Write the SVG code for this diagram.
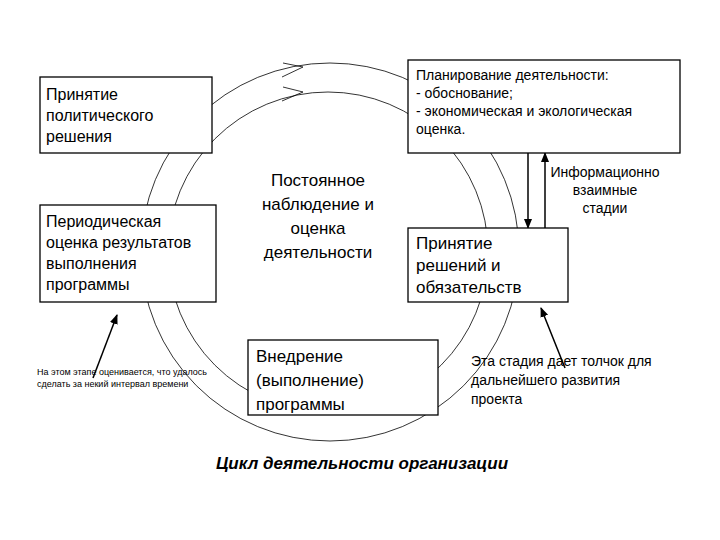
<svg xmlns="http://www.w3.org/2000/svg" width="720" height="540" viewBox="0 0 720 540">
<style>
.b{fill:#fff;stroke:#000;stroke-width:1.3}
.c{fill:none;stroke:#000;stroke-width:0.8}
text{font-family:"Liberation Sans",Arial,sans-serif;fill:#000}
.t{font-size:16px}
.s{font-size:14px}
</style>
<defs><marker id="a" markerWidth="10" markerHeight="10" refX="9" refY="5" orient="auto" markerUnits="userSpaceOnUse"><path d="M0,1 L10,5 L0,9 Z" fill="#000"/></marker></defs>
<rect width="720" height="540" fill="#fff"/>
<g id="connectors">
<circle class="c" cx="330" cy="252" r="189"/>
<circle class="c" cx="328" cy="252" r="160"/>
<polyline class="c" points="283,63 303,67 282,77"/>
<polyline class="c" points="283,87 303,92 282,101"/>
<line x1="528" y1="153" x2="528" y2="228" stroke="#000" stroke-width="1.5" marker-end="url(#a)"/>
<line x1="545" y1="228" x2="545" y2="153" stroke="#000" stroke-width="1.5" marker-end="url(#a)"/>
<line x1="93" y1="378" x2="117" y2="315" stroke="#000" stroke-width="1.5" marker-end="url(#a)"/>
<line x1="565" y1="368" x2="541" y2="308" stroke="#000" stroke-width="1.5" marker-end="url(#a)"/>
</g>
<g id="n1"><rect class="b" x="40" y="77" width="172" height="76"/>
<text class="t" x="46" y="100">Принятие</text><text class="t" x="46" y="121">политического</text><text class="t" x="46" y="142">решения</text></g>
<g id="n2"><rect class="b" x="40" y="205" width="176" height="97"/>
<text class="t" x="46" y="227">Периодическая</text><text class="t" x="46" y="248">оценка результатов</text><text class="t" x="46" y="269">выполнения</text><text class="t" x="46" y="290">программы</text></g>
<g id="n3"><rect class="b" x="408" y="60" width="272" height="93"/>
<text class="s" x="416" y="80">Планирование деятельности:</text><text class="s" x="416" y="98">- обоснование;</text><text class="s" x="416" y="116">- экономическая и экологическая</text><text class="s" x="416" y="134">оценка.</text></g>
<g id="n4"><rect class="b" x="408" y="228" width="160" height="74"/>
<text font-size="17" x="416" y="249">Принятие</text><text font-size="17" x="416" y="271">решений и</text><text font-size="17" x="416" y="293">обязательств</text></g>
<g id="n5"><rect class="b" x="248" y="340" width="190" height="75"/>
<text font-size="17" x="256" y="362">Внедрение</text><text font-size="17" x="256" y="386">(выполнение)</text><text font-size="17" x="256" y="410">программы</text></g>
<g id="center"><text font-size="17" text-anchor="middle" x="318" y="186">Постоянное</text><text font-size="17" text-anchor="middle" x="318" y="210">наблюдение и</text><text font-size="17" text-anchor="middle" x="318" y="234">оценка</text><text font-size="17" text-anchor="middle" x="318" y="258">деятельности</text></g>
<g id="labels">
<text class="s" text-anchor="middle" x="605" y="177">Информационно</text><text class="s" text-anchor="middle" x="605" y="195">взаимные</text><text class="s" text-anchor="middle" x="605" y="213">стадии</text>
<text class="s" x="471" y="366">Эта стадия дает толчок для</text><text class="s" x="471" y="385">дальнейшего развития</text><text class="s" x="471" y="404">проекта</text>
<text font-size="9" x="37" y="375">На этом этапе оценивается, что удалось</text><text font-size="9" x="37" y="387">сделать за некий интервал времени</text>
<text x="362" y="469" text-anchor="middle" font-size="17" font-weight="bold" font-style="italic">Цикл деятельности организации</text>
</g>
</svg>
